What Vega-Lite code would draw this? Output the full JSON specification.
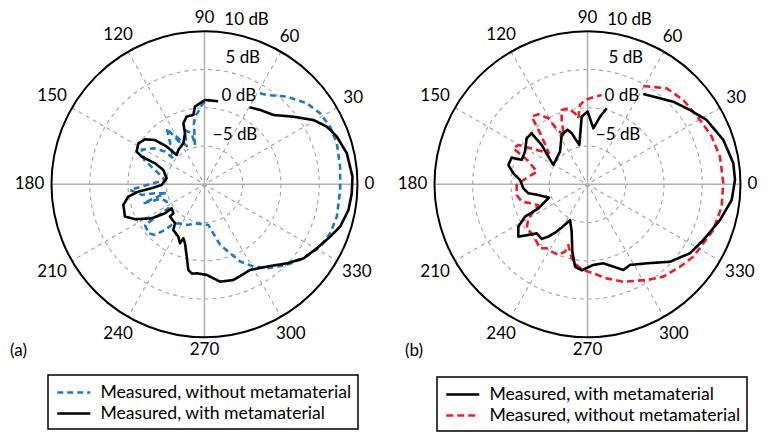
{
  "$schema": "https://vega.github.io/schema/vega-lite/v6.json",
  "width": 768,
  "height": 432,
  "autosize": {"type": "fit", "contains": "padding"},
  "padding": 0,
  "background": "white",
  "config": {"view": {"stroke": null}, "font": "Lato", "text": {"font": "Lato", "color": "black"}, "legend": {"strokeWidth": 1.5}},
  "datasets": {
    "rings": [
      {"panel": "a", "level": -5}, {"panel": "a", "level": 0}, {"panel": "a", "level": 5},
      {"panel": "b", "level": -5}, {"panel": "b", "level": 0}, {"panel": "b", "level": 5}
    ],
    "outer": [{"panel": "a", "level": 10}, {"panel": "b", "level": 10}],
    "spokes": [
      {"panel": "a", "angle": 0, "style": "solid"}, {"panel": "a", "angle": 90, "style": "solid"},
      {"panel": "a", "angle": 30, "style": "dash"}, {"panel": "a", "angle": 60, "style": "dash"},
      {"panel": "a", "angle": 120, "style": "dash"}, {"panel": "a", "angle": 150, "style": "dash"},
      {"panel": "b", "angle": 0, "style": "solid"}, {"panel": "b", "angle": 90, "style": "solid"},
      {"panel": "b", "angle": 30, "style": "dash"}, {"panel": "b", "angle": 60, "style": "dash"},
      {"panel": "b", "angle": 120, "style": "dash"}, {"panel": "b", "angle": 150, "style": "dash"}
    ],
    "angles": [
      {"panel": "a", "angle": 0}, {"panel": "a", "angle": 30}, {"panel": "a", "angle": 60}, {"panel": "a", "angle": 90},
      {"panel": "a", "angle": 120}, {"panel": "a", "angle": 150}, {"panel": "a", "angle": 180}, {"panel": "a", "angle": 210},
      {"panel": "a", "angle": 240}, {"panel": "a", "angle": 270}, {"panel": "a", "angle": 300}, {"panel": "a", "angle": 330},
      {"panel": "b", "angle": 0}, {"panel": "b", "angle": 30}, {"panel": "b", "angle": 60}, {"panel": "b", "angle": 90},
      {"panel": "b", "angle": 120}, {"panel": "b", "angle": 150}, {"panel": "b", "angle": 180}, {"panel": "b", "angle": 210},
      {"panel": "b", "angle": 240}, {"panel": "b", "angle": 270}, {"panel": "b", "angle": 300}, {"panel": "b", "angle": 330}
    ],
    "dblabels": [
      {"panel": "a", "level": -5}, {"panel": "a", "level": 0}, {"panel": "a", "level": 5}, {"panel": "a", "level": 10},
      {"panel": "b", "level": -5}, {"panel": "b", "level": 0}, {"panel": "b", "level": 5}, {"panel": "b", "level": 10}
    ],
    "panels": [{"panel": "a", "label": "(a)"}, {"panel": "b", "label": "(b)"}],
    "curvesA": [
      {"s": "Measured, without metamaterial", "a": 58.6, "d": 3.93},
      {"s": "Measured, without metamaterial", "a": 55.1, "d": 4.24},
      {"s": "Measured, without metamaterial", "a": 46.8, "d": 5.72},
      {"s": "Measured, without metamaterial", "a": 38.4, "d": 7.06},
      {"s": "Measured, without metamaterial", "a": 31.5, "d": 7.74},
      {"s": "Measured, without metamaterial", "a": 24.6, "d": 8.07},
      {"s": "Measured, without metamaterial", "a": 17.2, "d": 8.11},
      {"s": "Measured, without metamaterial", "a": 7.4, "d": 7.88},
      {"s": "Measured, without metamaterial", "a": 357.6, "d": 7.75},
      {"s": "Measured, without metamaterial", "a": 346.3, "d": 7.81},
      {"s": "Measured, without metamaterial", "a": 338.7, "d": 7.63},
      {"s": "Measured, without metamaterial", "a": 331.7, "d": 7.18},
      {"s": "Measured, without metamaterial", "a": 323.2, "d": 6.16},
      {"s": "Measured, without metamaterial", "a": 315.6, "d": 5.07},
      {"s": "Measured, without metamaterial", "a": 306.6, "d": 3.67},
      {"s": "Measured, without metamaterial", "a": 300.8, "d": 2.52},
      {"s": "Measured, without metamaterial", "a": 294.8, "d": 1.13},
      {"s": "Measured, without metamaterial", "a": 284.5, "d": -1.81},
      {"s": "Measured, without metamaterial", "a": 275.4, "d": -4.66},
      {"s": "Measured, without metamaterial", "a": 256.3, "d": -4.75},
      {"s": "Measured, without metamaterial", "a": 248.3, "d": -4.28},
      {"s": "Measured, without metamaterial", "a": 236.1, "d": -3.86},
      {"s": "Measured, without metamaterial", "a": 231.1, "d": -3.17},
      {"s": "Measured, without metamaterial", "a": 229.1, "d": -2.11},
      {"s": "Measured, without metamaterial", "a": 225.7, "d": -0.74},
      {"s": "Measured, without metamaterial", "a": 221.1, "d": -0.26},
      {"s": "Measured, without metamaterial", "a": 214.4, "d": -0.58},
      {"s": "Measured, without metamaterial", "a": 213.6, "d": -4.33},
      {"s": "Measured, without metamaterial", "a": 204.6, "d": -4.56},
      {"s": "Measured, without metamaterial", "a": 198.5, "d": -4.1},
      {"s": "Measured, without metamaterial", "a": 197.3, "d": -1.63},
      {"s": "Measured, without metamaterial", "a": 193, "d": -4.7},
      {"s": "Measured, without metamaterial", "a": 190.3, "d": -3.42},
      {"s": "Measured, without metamaterial", "a": 189.6, "d": -1.67},
      {"s": "Measured, without metamaterial", "a": 184.3, "d": -0.24},
      {"s": "Measured, without metamaterial", "a": 182.1, "d": -1.78},
      {"s": "Measured, without metamaterial", "a": 178.9, "d": -3.31},
      {"s": "Measured, without metamaterial", "a": 173.7, "d": -4.81},
      {"s": "Measured, without metamaterial", "a": 165, "d": -3.5},
      {"s": "Measured, without metamaterial", "a": 158, "d": -1.5},
      {"s": "Measured, without metamaterial", "a": 151.3, "d": -0.64},
      {"s": "Measured, without metamaterial", "a": 144.9, "d": -1.82},
      {"s": "Measured, without metamaterial", "a": 140.4, "d": -3.3},
      {"s": "Measured, without metamaterial", "a": 140.2, "d": -4.69},
      {"s": "Measured, without metamaterial", "a": 135, "d": -4.0},
      {"s": "Measured, without metamaterial", "a": 126.2, "d": -2.0},
      {"s": "Measured, without metamaterial", "a": 124, "d": -1.17},
      {"s": "Measured, without metamaterial", "a": 121, "d": -3.5},
      {"s": "Measured, without metamaterial", "a": 120.3, "d": -2.78},
      {"s": "Measured, without metamaterial", "a": 115, "d": -4.5},
      {"s": "Measured, without metamaterial", "a": 110, "d": -2.5},
      {"s": "Measured, without metamaterial", "a": 104.1, "d": -3.12},
      {"s": "Measured, without metamaterial", "a": 103.6, "d": -4.71},
      {"s": "Measured, without metamaterial", "a": 100, "d": -2.0},
      {"s": "Measured, without metamaterial", "a": 98, "d": -1.07},
      {"s": "Measured, without metamaterial", "a": 95, "d": -0.5},
      {"s": "Measured, without metamaterial", "a": 92, "d": 0.38},
      {"s": "Measured, without metamaterial", "a": 88.4, "d": 1.03},
      {"s": "Measured, without metamaterial", "a": 86.3, "d": 1.04},
      {"s": "Measured, with metamaterial", "a": 59.7, "d": 1.66},
      {"s": "Measured, with metamaterial", "a": 53.2, "d": 2.14},
      {"s": "Measured, with metamaterial", "a": 45.1, "d": 2.79},
      {"s": "Measured, with metamaterial", "a": 37.2, "d": 4.61},
      {"s": "Measured, with metamaterial", "a": 30.5, "d": 6.55},
      {"s": "Measured, with metamaterial", "a": 25.2, "d": 7.68},
      {"s": "Measured, with metamaterial", "a": 19.8, "d": 8.39},
      {"s": "Measured, with metamaterial", "a": 12.3, "d": 9.04},
      {"s": "Measured, with metamaterial", "a": 3.0, "d": 9.37},
      {"s": "Measured, with metamaterial", "a": 356.5, "d": 9.29},
      {"s": "Measured, with metamaterial", "a": 349.9, "d": 9.12},
      {"s": "Measured, with metamaterial", "a": 342.7, "d": 8.58},
      {"s": "Measured, with metamaterial", "a": 337.4, "d": 7.8},
      {"s": "Measured, with metamaterial", "a": 330.3, "d": 6.9},
      {"s": "Measured, with metamaterial", "a": 323.2, "d": 6.16},
      {"s": "Measured, with metamaterial", "a": 316.2, "d": 4.92},
      {"s": "Measured, with metamaterial", "a": 307.1, "d": 3.5},
      {"s": "Measured, with metamaterial", "a": 298.1, "d": 2.69},
      {"s": "Measured, with metamaterial", "a": 286.9, "d": 3.07},
      {"s": "Measured, with metamaterial", "a": 279.1, "d": 2.89},
      {"s": "Measured, with metamaterial", "a": 271.5, "d": 1.86},
      {"s": "Measured, with metamaterial", "a": 265.1, "d": 1.68},
      {"s": "Measured, with metamaterial", "a": 262, "d": 1.8},
      {"s": "Measured, with metamaterial", "a": 259.3, "d": 1.39},
      {"s": "Measured, with metamaterial", "a": 256.2, "d": -0.26},
      {"s": "Measured, with metamaterial", "a": 251.7, "d": -1.88},
      {"s": "Measured, with metamaterial", "a": 248.6, "d": -2.42},
      {"s": "Measured, with metamaterial", "a": 247.4, "d": -1.65},
      {"s": "Measured, with metamaterial", "a": 243.4, "d": -2.35},
      {"s": "Measured, with metamaterial", "a": 235.7, "d": -2.77},
      {"s": "Measured, with metamaterial", "a": 232.9, "d": -3.61},
      {"s": "Measured, with metamaterial", "a": 223.1, "d": -3.82},
      {"s": "Measured, with metamaterial", "a": 222.9, "d": -4.44},
      {"s": "Measured, with metamaterial", "a": 216.2, "d": -4.68},
      {"s": "Measured, with metamaterial", "a": 216.3, "d": -3.59},
      {"s": "Measured, with metamaterial", "a": 212.8, "d": -1.79},
      {"s": "Measured, with metamaterial", "a": 206.7, "d": 0.17},
      {"s": "Measured, with metamaterial", "a": 202.1, "d": 1.22},
      {"s": "Measured, with metamaterial", "a": 194.3, "d": 0.95},
      {"s": "Measured, with metamaterial", "a": 189.2, "d": 0.09},
      {"s": "Measured, with metamaterial", "a": 186.3, "d": -1.3},
      {"s": "Measured, with metamaterial", "a": 184.3, "d": -3.07},
      {"s": "Measured, with metamaterial", "a": 180.9, "d": -4.4},
      {"s": "Measured, with metamaterial", "a": 171, "d": -4.99},
      {"s": "Measured, with metamaterial", "a": 160.8, "d": -4.3},
      {"s": "Measured, with metamaterial", "a": 157, "d": -2.97},
      {"s": "Measured, with metamaterial", "a": 156.2, "d": -1.02},
      {"s": "Measured, with metamaterial", "a": 154.3, "d": -0.16},
      {"s": "Measured, with metamaterial", "a": 148.2, "d": 0.17},
      {"s": "Measured, with metamaterial", "a": 142.9, "d": -0.25},
      {"s": "Measured, with metamaterial", "a": 138.2, "d": -1.31},
      {"s": "Measured, with metamaterial", "a": 135.1, "d": -3.02},
      {"s": "Measured, with metamaterial", "a": 133.5, "d": -4.71},
      {"s": "Measured, with metamaterial", "a": 127.3, "d": -4.36},
      {"s": "Measured, with metamaterial", "a": 117.3, "d": -3.97},
      {"s": "Measured, with metamaterial", "a": 110.9, "d": -2.86},
      {"s": "Measured, with metamaterial", "a": 109.1, "d": -1.56},
      {"s": "Measured, with metamaterial", "a": 104.8, "d": -0.85},
      {"s": "Measured, with metamaterial", "a": 99.1, "d": -0.82},
      {"s": "Measured, with metamaterial", "a": 97, "d": 0.23},
      {"s": "Measured, with metamaterial", "a": 89.7, "d": 1.02},
      {"s": "Measured, with metamaterial", "a": 80.7, "d": 1.0}
    ],
    "curvesB": [
      {"s": "Measured, without metamaterial", "a": 60.4, "d": 4.77},
      {"s": "Measured, without metamaterial", "a": 50.5, "d": 6.26},
      {"s": "Measured, without metamaterial", "a": 41.3, "d": 6.68},
      {"s": "Measured, without metamaterial", "a": 29.7, "d": 6.94},
      {"s": "Measured, without metamaterial", "a": 21, "d": 7.39},
      {"s": "Measured, without metamaterial", "a": 11.8, "d": 7.69},
      {"s": "Measured, without metamaterial", "a": 0.4, "d": 7.75},
      {"s": "Measured, without metamaterial", "a": 350.5, "d": 7.78},
      {"s": "Measured, without metamaterial", "a": 340, "d": 7.49},
      {"s": "Measured, without metamaterial", "a": 333, "d": 7.0},
      {"s": "Measured, without metamaterial", "a": 325.6, "d": 6.76},
      {"s": "Measured, without metamaterial", "a": 318.3, "d": 6.2},
      {"s": "Measured, without metamaterial", "a": 309.4, "d": 5.62},
      {"s": "Measured, without metamaterial", "a": 301.7, "d": 4.71},
      {"s": "Measured, without metamaterial", "a": 290.2, "d": 3.57},
      {"s": "Measured, without metamaterial", "a": 281.5, "d": 2.55},
      {"s": "Measured, without metamaterial", "a": 273.7, "d": 1.66},
      {"s": "Measured, without metamaterial", "a": 267.2, "d": 1.22},
      {"s": "Measured, without metamaterial", "a": 263.6, "d": 0.83},
      {"s": "Measured, without metamaterial", "a": 257.9, "d": -0.11},
      {"s": "Measured, without metamaterial", "a": 252.5, "d": -1.68},
      {"s": "Measured, without metamaterial", "a": 251.5, "d": -0.72},
      {"s": "Measured, without metamaterial", "a": 247.6, "d": -0.01},
      {"s": "Measured, without metamaterial", "a": 242, "d": -0.03},
      {"s": "Measured, without metamaterial", "a": 237.5, "d": -0.08},
      {"s": "Measured, without metamaterial", "a": 233.4, "d": 0.42},
      {"s": "Measured, without metamaterial", "a": 228.4, "d": 0.02},
      {"s": "Measured, without metamaterial", "a": 221.3, "d": -0.29},
      {"s": "Measured, without metamaterial", "a": 215.9, "d": -0.19},
      {"s": "Measured, without metamaterial", "a": 209.9, "d": -1.08},
      {"s": "Measured, without metamaterial", "a": 203, "d": -3.0},
      {"s": "Measured, without metamaterial", "a": 198.8, "d": -2.29},
      {"s": "Measured, without metamaterial", "a": 194.8, "d": -1.1},
      {"s": "Measured, without metamaterial", "a": 188.6, "d": -0.64},
      {"s": "Measured, without metamaterial", "a": 180.5, "d": -0.74},
      {"s": "Measured, without metamaterial", "a": 174, "d": -2.0},
      {"s": "Measured, without metamaterial", "a": 166, "d": -3.2},
      {"s": "Measured, without metamaterial", "a": 158, "d": -1.5},
      {"s": "Measured, without metamaterial", "a": 154.1, "d": 0.78},
      {"s": "Measured, without metamaterial", "a": 150.4, "d": 0.4},
      {"s": "Measured, without metamaterial", "a": 148.9, "d": -0.46},
      {"s": "Measured, without metamaterial", "a": 147, "d": -1.54},
      {"s": "Measured, without metamaterial", "a": 141, "d": -3.5},
      {"s": "Measured, without metamaterial", "a": 133, "d": -1.0},
      {"s": "Measured, without metamaterial", "a": 129.5, "d": 1.47},
      {"s": "Measured, without metamaterial", "a": 125.1, "d": 1.18},
      {"s": "Measured, without metamaterial", "a": 120.7, "d": 0.03},
      {"s": "Measured, without metamaterial", "a": 119.5, "d": -1.42},
      {"s": "Measured, without metamaterial", "a": 116, "d": -3.0},
      {"s": "Measured, without metamaterial", "a": 112, "d": -1.0},
      {"s": "Measured, without metamaterial", "a": 109.2, "d": 0.29},
      {"s": "Measured, without metamaterial", "a": 104.2, "d": 0.24},
      {"s": "Measured, without metamaterial", "a": 100, "d": -0.58},
      {"s": "Measured, without metamaterial", "a": 97.9, "d": -1.29},
      {"s": "Measured, without metamaterial", "a": 95.4, "d": 0.42},
      {"s": "Measured, without metamaterial", "a": 91.7, "d": 1.03},
      {"s": "Measured, without metamaterial", "a": 88.3, "d": 1.25},
      {"s": "Measured, without metamaterial", "a": 81, "d": 1.82},
      {"s": "Measured, with metamaterial", "a": 58.3, "d": 3.87},
      {"s": "Measured, with metamaterial", "a": 43.9, "d": 5.57},
      {"s": "Measured, with metamaterial", "a": 35.9, "d": 6.55},
      {"s": "Measured, with metamaterial", "a": 28.3, "d": 7.7},
      {"s": "Measured, with metamaterial", "a": 18.1, "d": 8.68},
      {"s": "Measured, with metamaterial", "a": 8.2, "d": 9.26},
      {"s": "Measured, with metamaterial", "a": 1.7, "d": 9.29},
      {"s": "Measured, with metamaterial", "a": 353.8, "d": 8.96},
      {"s": "Measured, with metamaterial", "a": 344.9, "d": 7.94},
      {"s": "Measured, with metamaterial", "a": 334.3, "d": 6.8},
      {"s": "Measured, with metamaterial", "a": 326.1, "d": 6.15},
      {"s": "Measured, with metamaterial", "a": 316.8, "d": 4.79},
      {"s": "Measured, with metamaterial", "a": 306.8, "d": 2.9},
      {"s": "Measured, with metamaterial", "a": 297.8, "d": 1.92},
      {"s": "Measured, with metamaterial", "a": 292.7, "d": 2.14},
      {"s": "Measured, with metamaterial", "a": 287.4, "d": 1.28},
      {"s": "Measured, with metamaterial", "a": 281.3, "d": 0.53},
      {"s": "Measured, with metamaterial", "a": 274.1, "d": 0.57},
      {"s": "Measured, with metamaterial", "a": 266.1, "d": 1.27},
      {"s": "Measured, with metamaterial", "a": 261.4, "d": 0.88},
      {"s": "Measured, with metamaterial", "a": 257.3, "d": -0.98},
      {"s": "Measured, with metamaterial", "a": 251.5, "d": -3.48},
      {"s": "Measured, with metamaterial", "a": 243.9, "d": -4.81},
      {"s": "Measured, with metamaterial", "a": 241.9, "d": -4.22},
      {"s": "Measured, with metamaterial", "a": 236.9, "d": -2.61},
      {"s": "Measured, with metamaterial", "a": 233.2, "d": -1.46},
      {"s": "Measured, with metamaterial", "a": 230, "d": -0.67},
      {"s": "Measured, with metamaterial", "a": 224, "d": -0.77},
      {"s": "Measured, with metamaterial", "a": 220.6, "d": 0.18},
      {"s": "Measured, with metamaterial", "a": 217.1, "d": 1.34},
      {"s": "Measured, with metamaterial", "a": 211.5, "d": 0.6},
      {"s": "Measured, with metamaterial", "a": 207.4, "d": -0.8},
      {"s": "Measured, with metamaterial", "a": 206.1, "d": -2.85},
      {"s": "Measured, with metamaterial", "a": 199.1, "d": -4.67},
      {"s": "Measured, with metamaterial", "a": 192.2, "d": -3.42},
      {"s": "Measured, with metamaterial", "a": 188.6, "d": -2.18},
      {"s": "Measured, with metamaterial", "a": 183.6, "d": -1.6},
      {"s": "Measured, with metamaterial", "a": 176.3, "d": -1.16},
      {"s": "Measured, with metamaterial", "a": 171.6, "d": -0.2},
      {"s": "Measured, with metamaterial", "a": 166.3, "d": 0.65},
      {"s": "Measured, with metamaterial", "a": 160.6, "d": 0.51},
      {"s": "Measured, with metamaterial", "a": 159.7, "d": -0.82},
      {"s": "Measured, with metamaterial", "a": 152.4, "d": -0.78},
      {"s": "Measured, with metamaterial", "a": 142.9, "d": -0.03},
      {"s": "Measured, with metamaterial", "a": 137.6, "d": -0.11},
      {"s": "Measured, with metamaterial", "a": 139.4, "d": -2.1},
      {"s": "Measured, with metamaterial", "a": 150.5, "d": -4.87},
      {"s": "Measured, with metamaterial", "a": 130.1, "d": -4.42},
      {"s": "Measured, with metamaterial", "a": 117.6, "d": -2.72},
      {"s": "Measured, with metamaterial", "a": 110.1, "d": -2.39},
      {"s": "Measured, with metamaterial", "a": 107.2, "d": -3.02},
      {"s": "Measured, with metamaterial", "a": 101.7, "d": -4.75},
      {"s": "Measured, with metamaterial", "a": 94.9, "d": -1.12},
      {"s": "Measured, with metamaterial", "a": 89.9, "d": -0.5},
      {"s": "Measured, with metamaterial", "a": 84, "d": -2.64},
      {"s": "Measured, with metamaterial", "a": 79.5, "d": -1.02},
      {"s": "Measured, with metamaterial", "a": 75.8, "d": 0.25}
    ]
  },
  "layer": [
    {
      "data": {"name": "rings"},
      "transform": [
        {"calculate": "datum.panel == 'b' ? 50.065 : 0", "as": "cx"},
        {"calculate": "0", "as": "cy"},
        {"calculate": "datum.level + 10", "as": "r"}
      ],
      "mark": {"type": "point", "shape": "circle", "filled": false, "opacity": 1, "stroke": "#a3a3a3", "strokeWidth": 1.1, "strokeDash": [4, 4]},
      "encoding": {
        "x": {"field": "cx", "type": "quantitative", "scale": {"domain": [-26.73, 73.66], "nice": false, "zero": false}, "axis": null},
        "y": {"field": "cy", "type": "quantitative", "scale": {"domain": [-32.38, 24.09], "nice": false, "zero": false}, "axis": null},
        "size": {"field": "r", "type": "quantitative", "scale": {"type": "pow", "exponent": 2, "domain": [0, 20], "range": [0, 93636]}, "legend": null}
      }
    },
    {
      "data": {"name": "spokes"},
      "transform": [
        {"filter": "datum.style == 'dash'"},
        {"calculate": "datum.panel == 'b' ? 50.065 : 0", "as": "cx"},
        {"calculate": "datum.cx + 20 * cos(datum.angle * PI / 180)", "as": "x1"},
        {"calculate": "20 * sin(datum.angle * PI / 180)", "as": "y1"},
        {"calculate": "datum.cx - 20 * cos(datum.angle * PI / 180)", "as": "x2"},
        {"calculate": "-20 * sin(datum.angle * PI / 180)", "as": "y2"}
      ],
      "mark": {"type": "rule", "stroke": "#a3a3a3", "strokeWidth": 1.1, "strokeDash": [4, 4]},
      "encoding": {
        "x": {"field": "x1", "type": "quantitative", "scale": {"domain": [-26.73, 73.66], "nice": false, "zero": false}, "axis": null},
        "y": {"field": "y1", "type": "quantitative", "scale": {"domain": [-32.38, 24.09], "nice": false, "zero": false}, "axis": null},
        "x2": {"field": "x2"},
        "y2": {"field": "y2"}
      }
    },
    {
      "data": {"name": "spokes"},
      "transform": [
        {"filter": "datum.style == 'solid'"},
        {"calculate": "datum.panel == 'b' ? 50.065 : 0", "as": "cx"},
        {"calculate": "datum.cx + 20 * cos(datum.angle * PI / 180)", "as": "x1"},
        {"calculate": "20 * sin(datum.angle * PI / 180)", "as": "y1"},
        {"calculate": "datum.cx - 20 * cos(datum.angle * PI / 180)", "as": "x2"},
        {"calculate": "-20 * sin(datum.angle * PI / 180)", "as": "y2"}
      ],
      "mark": {"type": "rule", "stroke": "#b0b0b0", "strokeWidth": 1.5},
      "encoding": {
        "x": {"field": "x1", "type": "quantitative", "scale": {"domain": [-26.73, 73.66], "nice": false, "zero": false}, "axis": null},
        "y": {"field": "y1", "type": "quantitative", "scale": {"domain": [-32.38, 24.09], "nice": false, "zero": false}, "axis": null},
        "x2": {"field": "x2"},
        "y2": {"field": "y2"}
      }
    },
    {
      "data": {"name": "outer"},
      "transform": [
        {"calculate": "datum.panel == 'b' ? 50.065 : 0", "as": "cx"},
        {"calculate": "0", "as": "cy"},
        {"calculate": "datum.level + 10", "as": "r"}
      ],
      "mark": {"type": "point", "shape": "circle", "filled": false, "opacity": 1, "stroke": "black", "strokeWidth": 2},
      "encoding": {
        "x": {"field": "cx", "type": "quantitative", "scale": {"domain": [-26.73, 73.66], "nice": false, "zero": false}, "axis": null},
        "y": {"field": "cy", "type": "quantitative", "scale": {"domain": [-32.38, 24.09], "nice": false, "zero": false}, "axis": null},
        "size": {"field": "r", "type": "quantitative", "scale": {"type": "pow", "exponent": 2, "domain": [0, 20], "range": [0, 93636]}, "legend": null}
      }
    },
    {
      "data": {"name": "curvesA"},
      "transform": [
        {"calculate": "(datum.d + 10) * cos(datum.a * PI / 180)", "as": "x"},
        {"calculate": "(datum.d + 10) * sin(datum.a * PI / 180)", "as": "y"}
      ],
      "mark": {"type": "line", "strokeWidth": 2.6, "strokeJoin": "round"},
      "encoding": {
        "x": {"field": "x", "type": "quantitative", "scale": {"domain": [-26.73, 73.66], "nice": false, "zero": false}, "axis": null},
        "y": {"field": "y", "type": "quantitative", "scale": {"domain": [-32.38, 24.09], "nice": false, "zero": false}, "axis": null},
        "order": {"value": null},
        "color": {
          "field": "s", "type": "nominal",
          "scale": {"domain": ["Measured, without metamaterial", "Measured, with metamaterial"], "range": ["#1f77c4", "#000000"]},
          "legend": {"orient": "none", "legendX": 48, "legendY": 375, "title": null, "strokeColor": "black", "fillColor": "white", "padding": 6, "symbolType": "M-1.65,0H1.65", "symbolSize": 400, "symbolStrokeWidth": 2.5, "symbolOffset": 8.25, "labelOffset": 15.25, "labelFont": "Lato", "labelFontSize": 17.6, "labelColor": "black", "labelLimit": 400, "rowPadding": 0}
        },
        "strokeDash": {
          "field": "s", "type": "nominal",
          "scale": {"domain": ["Measured, without metamaterial", "Measured, with metamaterial"], "range": [[6, 4], [1, 0]]},
          "legend": {"orient": "none", "legendX": 48, "legendY": 375, "title": null, "strokeColor": "black", "fillColor": "white", "padding": 6, "symbolType": "M-1.65,0H1.65", "symbolSize": 400, "symbolStrokeWidth": 2.5, "symbolOffset": 8.25, "labelOffset": 15.25, "labelFont": "Lato", "labelFontSize": 17.6, "labelColor": "black", "labelLimit": 400, "rowPadding": 0}
        }
      }
    },
    {
      "data": {"name": "curvesB"},
      "transform": [
        {"calculate": "50.065 + (datum.d + 10) * cos(datum.a * PI / 180)", "as": "x"},
        {"calculate": "(datum.d + 10) * sin(datum.a * PI / 180)", "as": "y"}
      ],
      "mark": {"type": "line", "strokeWidth": 2.6, "strokeJoin": "round"},
      "encoding": {
        "x": {"field": "x", "type": "quantitative", "scale": {"domain": [-26.73, 73.66], "nice": false, "zero": false}, "axis": null},
        "y": {"field": "y", "type": "quantitative", "scale": {"domain": [-32.38, 24.09], "nice": false, "zero": false}, "axis": null},
        "order": {"value": null},
        "color": {
          "field": "s", "type": "nominal",
          "scale": {"domain": ["Measured, with metamaterial", "Measured, without metamaterial"], "range": ["#000000", "#ee1d25"]},
          "legend": {"orient": "none", "legendX": 437, "legendY": 377, "title": null, "strokeColor": "black", "fillColor": "white", "padding": 6, "symbolType": "M-1.65,0H1.65", "symbolSize": 400, "symbolStrokeWidth": 2.5, "symbolOffset": 8.25, "labelOffset": 15.25, "labelFont": "Lato", "labelFontSize": 17.6, "labelColor": "black", "labelLimit": 400, "rowPadding": 0}
        },
        "strokeDash": {
          "field": "s", "type": "nominal",
          "scale": {"domain": ["Measured, with metamaterial", "Measured, without metamaterial"], "range": [[1, 0], [7, 4]]},
          "legend": {"orient": "none", "legendX": 437, "legendY": 377, "title": null, "strokeColor": "black", "fillColor": "white", "padding": 6, "symbolType": "M-1.65,0H1.65", "symbolSize": 400, "symbolStrokeWidth": 2.5, "symbolOffset": 8.25, "labelOffset": 15.25, "labelFont": "Lato", "labelFontSize": 17.6, "labelColor": "black", "labelLimit": 400, "rowPadding": 0}
        }
      }
    },
    {
      "data": {"name": "angles"},
      "transform": [
        {"calculate": "datum.panel == 'b' ? 50.065 : 0", "as": "cx"},
        {"calculate": "'' + datum.angle", "as": "lab"},
        {"calculate": "20 + (7 + 6 * abs(sin(datum.angle * PI / 180)) + 5 * length(datum.lab) * abs(cos(datum.angle * PI / 180))) / 7.65", "as": "R"},
        {"calculate": "datum.cx + datum.R * cos(datum.angle * PI / 180)", "as": "x"},
        {"calculate": "datum.R * sin(datum.angle * PI / 180)", "as": "y"}
      ],
      "mark": {"type": "text", "font": "Lato", "fontSize": 17, "align": "center", "baseline": "middle", "color": "black"},
      "encoding": {
        "x": {"field": "x", "type": "quantitative", "scale": {"domain": [-26.73, 73.66], "nice": false, "zero": false}, "axis": null},
        "y": {"field": "y", "type": "quantitative", "scale": {"domain": [-32.38, 24.09], "nice": false, "zero": false}, "axis": null},
        "text": {"field": "lab"}
      }
    },
    {
      "data": {"name": "dblabels"},
      "transform": [
        {"calculate": "datum.panel == 'b' ? 50.065 : 0", "as": "cx"},
        {"calculate": "(datum.level < 0 ? '\u2212' + (-datum.level) : '' + datum.level) + ' dB'", "as": "lab"},
        {"calculate": "datum.cx + 4.5 + 0.1 * datum.level", "as": "x"},
        {"calculate": "datum.level + 11.5", "as": "y"}
      ],
      "mark": {"type": "text", "font": "Lato", "fontSize": 17, "align": "center", "baseline": "middle", "color": "black"},
      "encoding": {
        "x": {"field": "x", "type": "quantitative", "scale": {"domain": [-26.73, 73.66], "nice": false, "zero": false}, "axis": null},
        "y": {"field": "y", "type": "quantitative", "scale": {"domain": [-32.38, 24.09], "nice": false, "zero": false}, "axis": null},
        "text": {"field": "lab"}
      }
    },
    {
      "data": {"name": "panels"},
      "transform": [
        {"calculate": "datum.panel == 'b' ? 50.065 - 23.86 : -25.42", "as": "x"},
        {"calculate": "-21.73", "as": "y"}
      ],
      "mark": {"type": "text", "font": "Lato", "fontSize": 17, "align": "left", "baseline": "middle", "color": "black"},
      "encoding": {
        "x": {"field": "x", "type": "quantitative", "scale": {"domain": [-26.73, 73.66], "nice": false, "zero": false}, "axis": null},
        "y": {"field": "y", "type": "quantitative", "scale": {"domain": [-32.38, 24.09], "nice": false, "zero": false}, "axis": null},
        "text": {"field": "label"}
      }
    }
  ],
  "resolve": {"scale": {"color": "independent", "strokeDash": "independent"}}
}
